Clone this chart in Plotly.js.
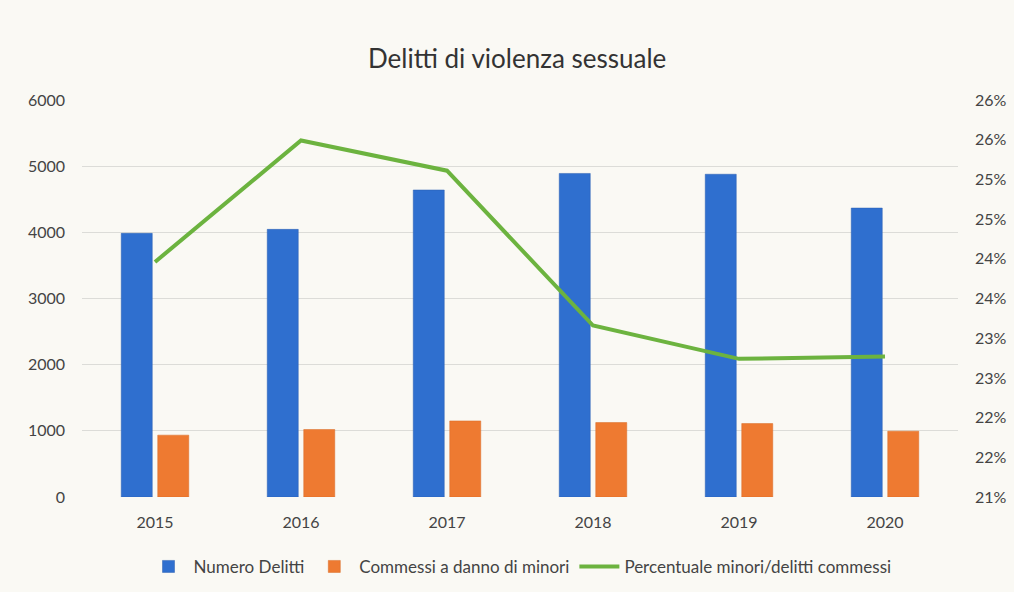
<!DOCTYPE html>
<html>
<head>
<meta charset="utf-8">
<script src="https://cdn.plot.ly/plotly-3.0.1.min.js"></script>
<style>html,body{margin:0;padding:0;background:#faf9f4;}#chart{width:1014px;height:592px;}</style>
</head>
<body>
<div id="chart"></div>
<script>
const years = ["2015", "2016", "2017", "2018", "2019", "2020"];
const numeroDelitti = [3985, 4045, 4640, 4890, 4878, 4367];
const minori = [935, 1020, 1150, 1125, 1110, 995];
const percentuale = [0.2396, 0.2549, 0.2511, 0.2316, 0.2274, 0.2277];
const leftTicks = [0, 1000, 2000, 3000, 4000, 5000, 6000];
const rightTickVals = [0.21, 0.215, 0.22, 0.225, 0.23, 0.235, 0.24, 0.245, 0.25, 0.255, 0.26];
const rightTickText = ["21%", "22%", "22%", "23%", "23%", "24%", "24%", "25%", "25%", "26%", "26%"];

const font = "Lato, 'Open Sans', sans-serif";
const data = [
  {type: "bar", name: "Numero Delitti", x: years, y: numeroDelitti,
   marker: {color: "#2f6fcf", line: {color: "#2a5fb0", width: 0.5}}},
  {type: "bar", name: "Commessi a danno di minori", x: years, y: minori,
   marker: {color: "#ee7a31", line: {color: "#d86a25", width: 0.5}}},
  {type: "scatter", mode: "lines", name: "Percentuale minori/delitti commessi", x: years, y: percentuale,
   yaxis: "y2", line: {color: "#6cb33f", width: 4}}
];
const layout = {
  width: 1014, height: 592,
  paper_bgcolor: "#faf9f4", plot_bgcolor: "rgba(0,0,0,0)",
  margin: {l: 82, r: 56, t: 100, b: 95, autoexpand: false},
  font: {family: font, color: "#444", size: 16},
  title: {text: "Delitti di violenza sessuale", x: 0.51, xanchor: "center", y: 0.9, yanchor: "middle",
          font: {family: font, size: 26, color: "#333"}},
  barmode: "group", bargap: 0.5, bargroupgap: 0.15,
  xaxis: {type: "category", showgrid: false, zeroline: false, showline: false, ticks: "",
          ticklabelstandoff: 14, tickfont: {size: 16, color: "#444"}},
  yaxis: {range: [0, 6000], tickvals: leftTicks, showgrid: true, gridcolor: "#dcdcd8", gridwidth: 1,
          zeroline: false, showline: false, ticks: "", ticklabelstandoff: 16, tickfont: {size: 16, color: "#444"}},
  yaxis2: {overlaying: "y", side: "right", range: [0.21, 0.26], tickvals: rightTickVals, ticktext: rightTickText,
           showgrid: false, zeroline: false, showline: false, ticks: "", ticklabelstandoff: 16,
           tickfont: {size: 16, color: "#444"}},
  legend: {orientation: "h", x: 0.5, xanchor: "center", y: -0.176, yanchor: "middle",
           font: {size: 17, color: "#444"}, itemwidth: 40, traceorder: "normal"},
  showlegend: true
};
Plotly.newPlot("chart", data, layout, {displayModeBar: false, staticPlot: true});
</script>
</body>
</html>
